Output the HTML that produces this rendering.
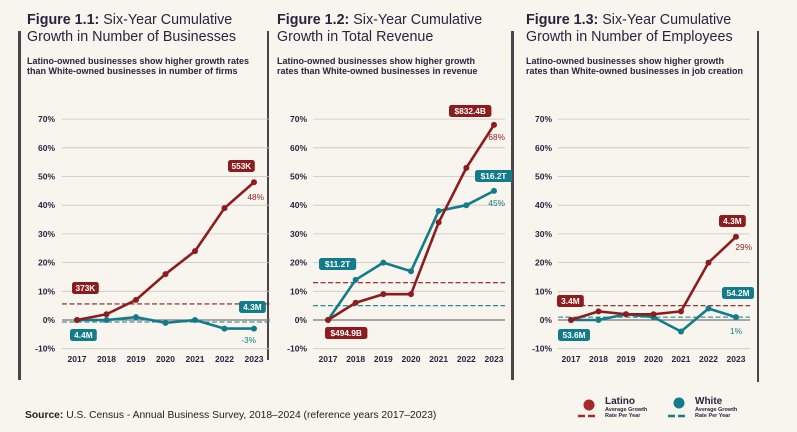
<!DOCTYPE html>
<html><head><meta charset="utf-8">
<style>
html,body{margin:0;padding:0;background:#f8f4ee;}
svg{display:block;font-family:"Liberation Sans",sans-serif;}
</style></head>
<body>
<svg id="chart" width="797" height="432" viewBox="0 0 797 432">
<rect width="797" height="432" fill="#f8f4ee"/>
<rect x="18" y="31" width="3" height="349" fill="#4a4548"/>
<rect x="267" y="31" width="2" height="329" fill="#4a4548"/>
<rect x="511" y="31" width="3" height="349" fill="#4a4548"/>
<rect x="757" y="31" width="2" height="351" fill="#4a4548"/>
<text x="25" y="418" font-size="10.3" fill="#222"><tspan font-weight="bold">Source:</tspan> U.S. Census - Annual Business Survey, 2018–2024 (reference years 2017–2023)</text>
<g>
<circle cx="589" cy="405" r="5.5" fill="#a8282a"/>
<line x1="578" y1="416" x2="598" y2="416" stroke="#a8282a" stroke-width="2.5" stroke-dasharray="7,3"/>
<text x="605" y="404" font-size="10" font-weight="bold" fill="#2b2340">Latino</text>
<text x="605" y="411" font-size="5.5" font-weight="bold" fill="#2b2340">Average Growth</text>
<text x="605" y="417" font-size="5.5" font-weight="bold" fill="#2b2340">Rate Per Year</text>
<circle cx="679" cy="403" r="5.5" fill="#137c8a"/>
<line x1="668" y1="416" x2="688" y2="416" stroke="#137c8a" stroke-width="2.5" stroke-dasharray="7,3"/>
<text x="695" y="404" font-size="10" font-weight="bold" fill="#2b2340">White</text>
<text x="695" y="411" font-size="5.5" font-weight="bold" fill="#2b2340">Average Growth</text>
<text x="695" y="417" font-size="5.5" font-weight="bold" fill="#2b2340">Rate Per Year</text>
</g>
</svg>
<script>
const years = ["2017","2018","2019","2020","2021","2022","2023"];
const yTicks = [70,60,50,40,30,20,10,0,-10];
const bizLatino = [0,2,7,16,24,39,48];
const bizWhite = [0,0,1,-1,0,-3,-3];
const bizAvg = [5.6,-0.7];
const revLatino = [0,6,9,9,34,53,68];
const revWhite = [0,14,20,17,38,40,45];
const revAvg = [13,5];
const empLatino = [0,3,2,2,3,20,29];
const empWhite = [0,0,2,1,-4,4,1];
const empAvg = [5,1];
const bizLabels = ["373K","4.4M","553K","4.3M","48%","-3%"];
const revLabels = ["$494.9B","$11.2T","$832.4B","$16.2T","68%","45%"];
const empLabels = ["3.4M","53.6M","4.3M","54.2M","29%","1%"];

const RED="#8e1c1e", TEAL="#137c8a";
const svg=document.getElementById('chart');
const NS="http://www.w3.org/2000/svg";
function mk(tag,attrs,parent){const e=document.createElementNS(NS,tag);for(const k in attrs)e.setAttribute(k,attrs[k]);(parent||svg).appendChild(e);return e;}

const panels=[
 {id:"businesses",x0:62,x1:270,tx:55,fx0:77,fx1:254,title:["Figure  1.1:"," Six-Year Cumulative","Growth in Number of Businesses"],tX:27,
  sub:["Latino-owned businesses show higher growth rates","than White-owned businesses in number of firms"],L:bizLatino,W:bizWhite,avg:bizAvg,labels:bizLabels,
  lb:[[72,282],[70,329],[228,160],[239,301]],pct:[[264,200,"end"],[256,343,"end"]]},
 {id:"revenue",x0:313,x1:505,tx:307,fx0:328,fx1:494,title:["Figure 1.2:","  Six-Year Cumulative","Growth in Total Revenue"],tX:277,
  sub:["Latino-owned businesses show higher growth","rates than White-owned businesses in revenue"],L:revLatino,W:revWhite,avg:revAvg,labels:revLabels,
  lb:[[325,327],[319,258],[449,105],[475,170]],pct:[[505,140,"end"],[505,206,"end"]]},
 {id:"employees",x0:558,x1:750,tx:552,fx0:571,fx1:736,title:["Figure 1.3:","  Six-Year Cumulative","Growth in Number of Employees"],tX:526,
  sub:["Latino-owned businesses show higher growth","rates than White-owned businesses in job creation"],L:empLatino,W:empWhite,avg:empAvg,labels:empLabels,
  lb:[[557,295],[558,329],[719,215],[722,287]],pct:[[752,250,"end"],[742,334,"end"]]}
];
const yS=v=>320-v*2.87;

panels.forEach(p=>{
 const g=mk('g',{});
 
 
 const t1=mk('text',{x:p.tX,y:24,'font-size':14.3,fill:'#2b2340'},g);
 
 
 const a=mk('tspan',{'font-weight':'bold'},t1);a.textContent=p.title[0];
 const b=mk('tspan',{},t1);b.textContent=p.title[1];
 const t2=mk('text',{x:p.tX,y:41,'font-size':14.3,fill:'#2b2340'},g);t2.textContent=p.title[2];
 
 
 p.sub.forEach((s,i)=>{const e=mk('text',{x:p.tX,y:64+i*10,'font-size':9,'font-weight':'bold',fill:'#2b2340'},g);e.textContent=s;
  
  });
 const xS=i=>p.fx0+i*(p.fx1-p.fx0)/(years.length-1);
 yTicks.forEach(v=>{
  const l=mk('line',{x1:p.x0,x2:p.x1,y1:yS(v),y2:yS(v),stroke:v===0?'#777':'#c9c4c0','stroke-width':v===0?1.2:0.8},g);
  
  
  const t=mk('text',{x:p.tx,y:yS(v)+3,'font-size':8.5,'font-weight':'bold',fill:'#2b2340','text-anchor':'end'},g);t.textContent=v+'%';
  
  
 });
 years.forEach((y,i)=>{const t=mk('text',{x:xS(i),y:362,'font-size':8.5,'font-weight':'bold',fill:'#2b2340','text-anchor':'middle'},g);t.textContent=y;
  
  });
 [[p.avg[0],RED,'latino'],[p.avg[1],TEAL,'white']].forEach(([v,c,n])=>{
  const l=mk('line',{x1:p.x0,x2:p.x1,y1:yS(v),y2:yS(v),stroke:c,'stroke-width':1.1,'stroke-dasharray':'5,2.5'},g);
  
  
 });
 [[p.W,TEAL,'white'],[p.L,RED,'latino']].forEach(([d,c,n])=>{
  const pl=mk('polyline',{points:d.map((v,i)=>xS(i)+','+yS(v)).join(' '),fill:'none',stroke:c,'stroke-width':2.6,'stroke-linejoin':'round'},g);
  
  
  d.forEach((v,i)=>{const ci=mk('circle',{cx:xS(i),cy:yS(v),r:3,fill:c},g);
   
   });
 });
 const cols=[RED,TEAL,RED,TEAL];
 p.lb.forEach((pos,i)=>{
  const txt=p.labels[i];const w=txt.length*5.2+6;
  const r=mk('rect',{x:pos[0],y:pos[1],width:w,height:12,rx:2.5,fill:cols[i]},g);
  
  
  const t=mk('text',{x:pos[0]+w/2,y:pos[1]+9,'font-size':8.3,'font-weight':'bold',fill:'#fff','text-anchor':'middle'},g);t.textContent=txt;
  
  
 });
 p.pct.forEach((pos,i)=>{const t=mk('text',{x:pos[0],y:pos[1],'font-size':8.3,fill:i?TEAL:RED,'text-anchor':pos[2]},g);t.textContent=p.labels[4+i];
  
  });
});
</script>
</body></html>
